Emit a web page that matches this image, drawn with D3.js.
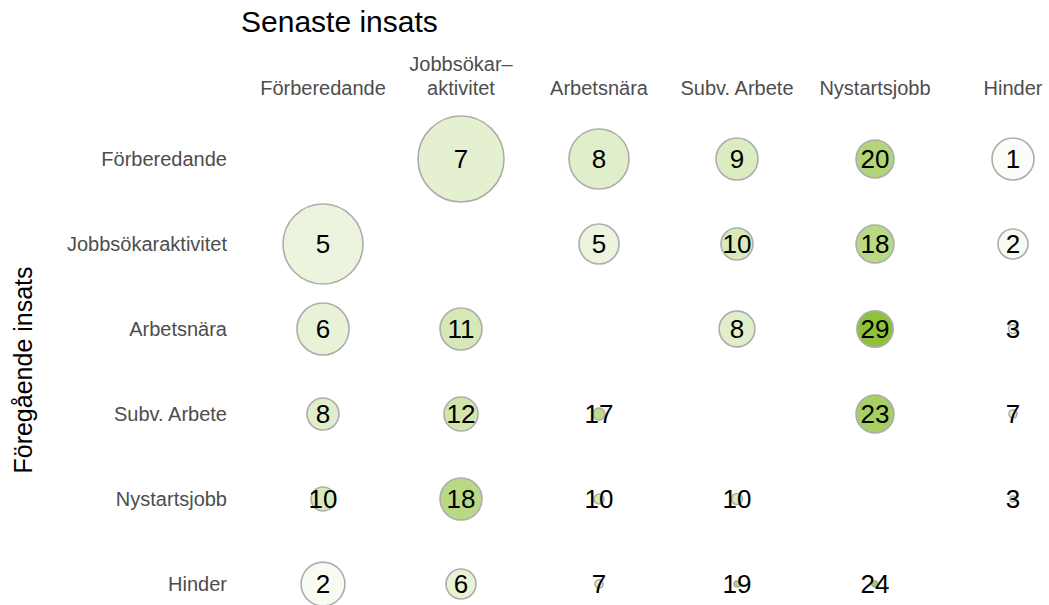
<!DOCTYPE html>
<html lang="sv">
<head>
<meta charset="utf-8">
<title>Senaste insats</title>
<script src="https://d3js.org/d3.v7.min.js"></script>
<style>
  body { margin: 0; background: #fff; }
  .mychart text { font-family: "Liberation Sans", Arial, sans-serif; }
  .mychart .rad, .mychart .kol { fill: #4d4d4d; font-size: 20px; }
  .mychart .varde { fill: #000; font-size: 26px; }
</style>
</head>
<body>
<div class="mychart" id="chart"></div>
<script>
"use strict"

// foregaende insats (rader) och senaste insats (kolumner)
var rader = ["Förberedande", "Jobbsökaraktivitet", "Arbetsnära", "Subv. Arbete", "Nystartsjobb", "Hinder"];
var kolumner = ["Förberedande", "Jobbsökaraktivitet", "Arbetsnära", "Subv. Arbete", "Nystartsjobb", "Hinder"];
var kolumnEtiketter = [["Förberedande"], ["Jobbsökar–", "aktivitet"], ["Arbetsnära"], ["Subv. Arbete"], ["Nystartsjobb"], ["Hinder"]];

// talet i cirkeln (styr fargen)
var varden = [
  [null, 7, 8, 9, 20, 1],
  [5, null, 5, 10, 18, 2],
  [6, 11, null, 8, 29, 3],
  [8, 12, 17, null, 23, 7],
  [10, 18, 10, 10, null, 3],
  [2, 6, 7, 19, 24, null]
];

// antal (styr cirkelns storlek)
var antal = [
  [null, 1850, 900, 440, 360, 440],
  [1600, null, 400, 256, 360, 225],
  [680, 440, null, 320, 330, 20],
  [256, 290, 36, null, 360, 16],
  [144, 440, 25, 30, null, 9],
  [480, 225, 16, 9, 9, null]
];

var larguraSVG = 1049, alturaSVG = 605;

var svg = d3.select('#chart')
  .append('svg')
    .attr('width', larguraSVG)
    .attr('height', alturaSVG);

var x = d3.scalePoint().domain(kolumner).range([323, 1013]);
var y = d3.scalePoint().domain(rader).range([159, 584]);
var r = d3.scaleSqrt().domain([0, 1850]).range([0, 43]);
var farg = d3.scaleLinear().domain([0, 29]).range(["#ffffff", "#8fc23b"]);

var celler = [];
rader.forEach(function(rad, i) {
  kolumner.forEach(function(kol, j) {
    if (varden[i][j] != null) celler.push({rad: rad, kol: kol, v: varden[i][j], n: antal[i][j]});
  });
});

svg.append('g').selectAll('circle')
  .data(celler)
  .enter()
    .append('circle')
    .attr('cx', d => x(d.kol))
    .attr('cy', d => y(d.rad))
    .attr('r', d => r(d.n))
    .style('fill', d => farg(d.v))
    .style('stroke', '#adadad')
    .style('stroke-width', 1.6);

svg.append('g').selectAll('text')
  .data(celler)
  .enter()
    .append('text')
    .attr('class', 'varde')
    .attr('x', d => x(d.kol))
    .attr('y', d => y(d.rad))
    .attr('dy', '0.36em')
    .attr('text-anchor', 'middle')
    .text(d => d.v);

// radetiketter
svg.append('g').selectAll('text')
  .data(rader)
  .enter()
    .append('text')
    .attr('class', 'rad')
    .attr('x', 227)
    .attr('y', d => y(d))
    .attr('dy', '0.36em')
    .attr('text-anchor', 'end')
    .text(d => d);

// kolumnetiketter
var kol = svg.append('g').selectAll('text')
  .data(kolumner)
  .enter()
    .append('text')
    .attr('class', 'kol')
    .attr('text-anchor', 'middle')
    .attr('x', d => x(d))
    .attr('y', 95);

kol.selectAll('tspan')
  .data((d, i) => kolumnEtiketter[i].map((t, k, a) => ({t: t, k: k, n: a.length})))
  .enter()
    .append('tspan')
    .attr('x', function() { return d3.select(this.parentNode).attr('x'); })
    .attr('dy', d => d.k == 0 ? -(d.n - 1) * 24 : 24)
    .text(d => d.t);

svg.append('text')
  .attr('x', 241)
  .attr('y', 32)
  .style('font-size', '30px')
  .style('fill', '#000')
  .text('Senaste insats');

svg.append('text')
  .attr('transform', 'translate(32,370) rotate(-90)')
  .attr('text-anchor', 'middle')
  .style('font-size', '25px')
  .style('fill', '#000')
  .text('Föregående insats');
</script>
</body>
</html>
